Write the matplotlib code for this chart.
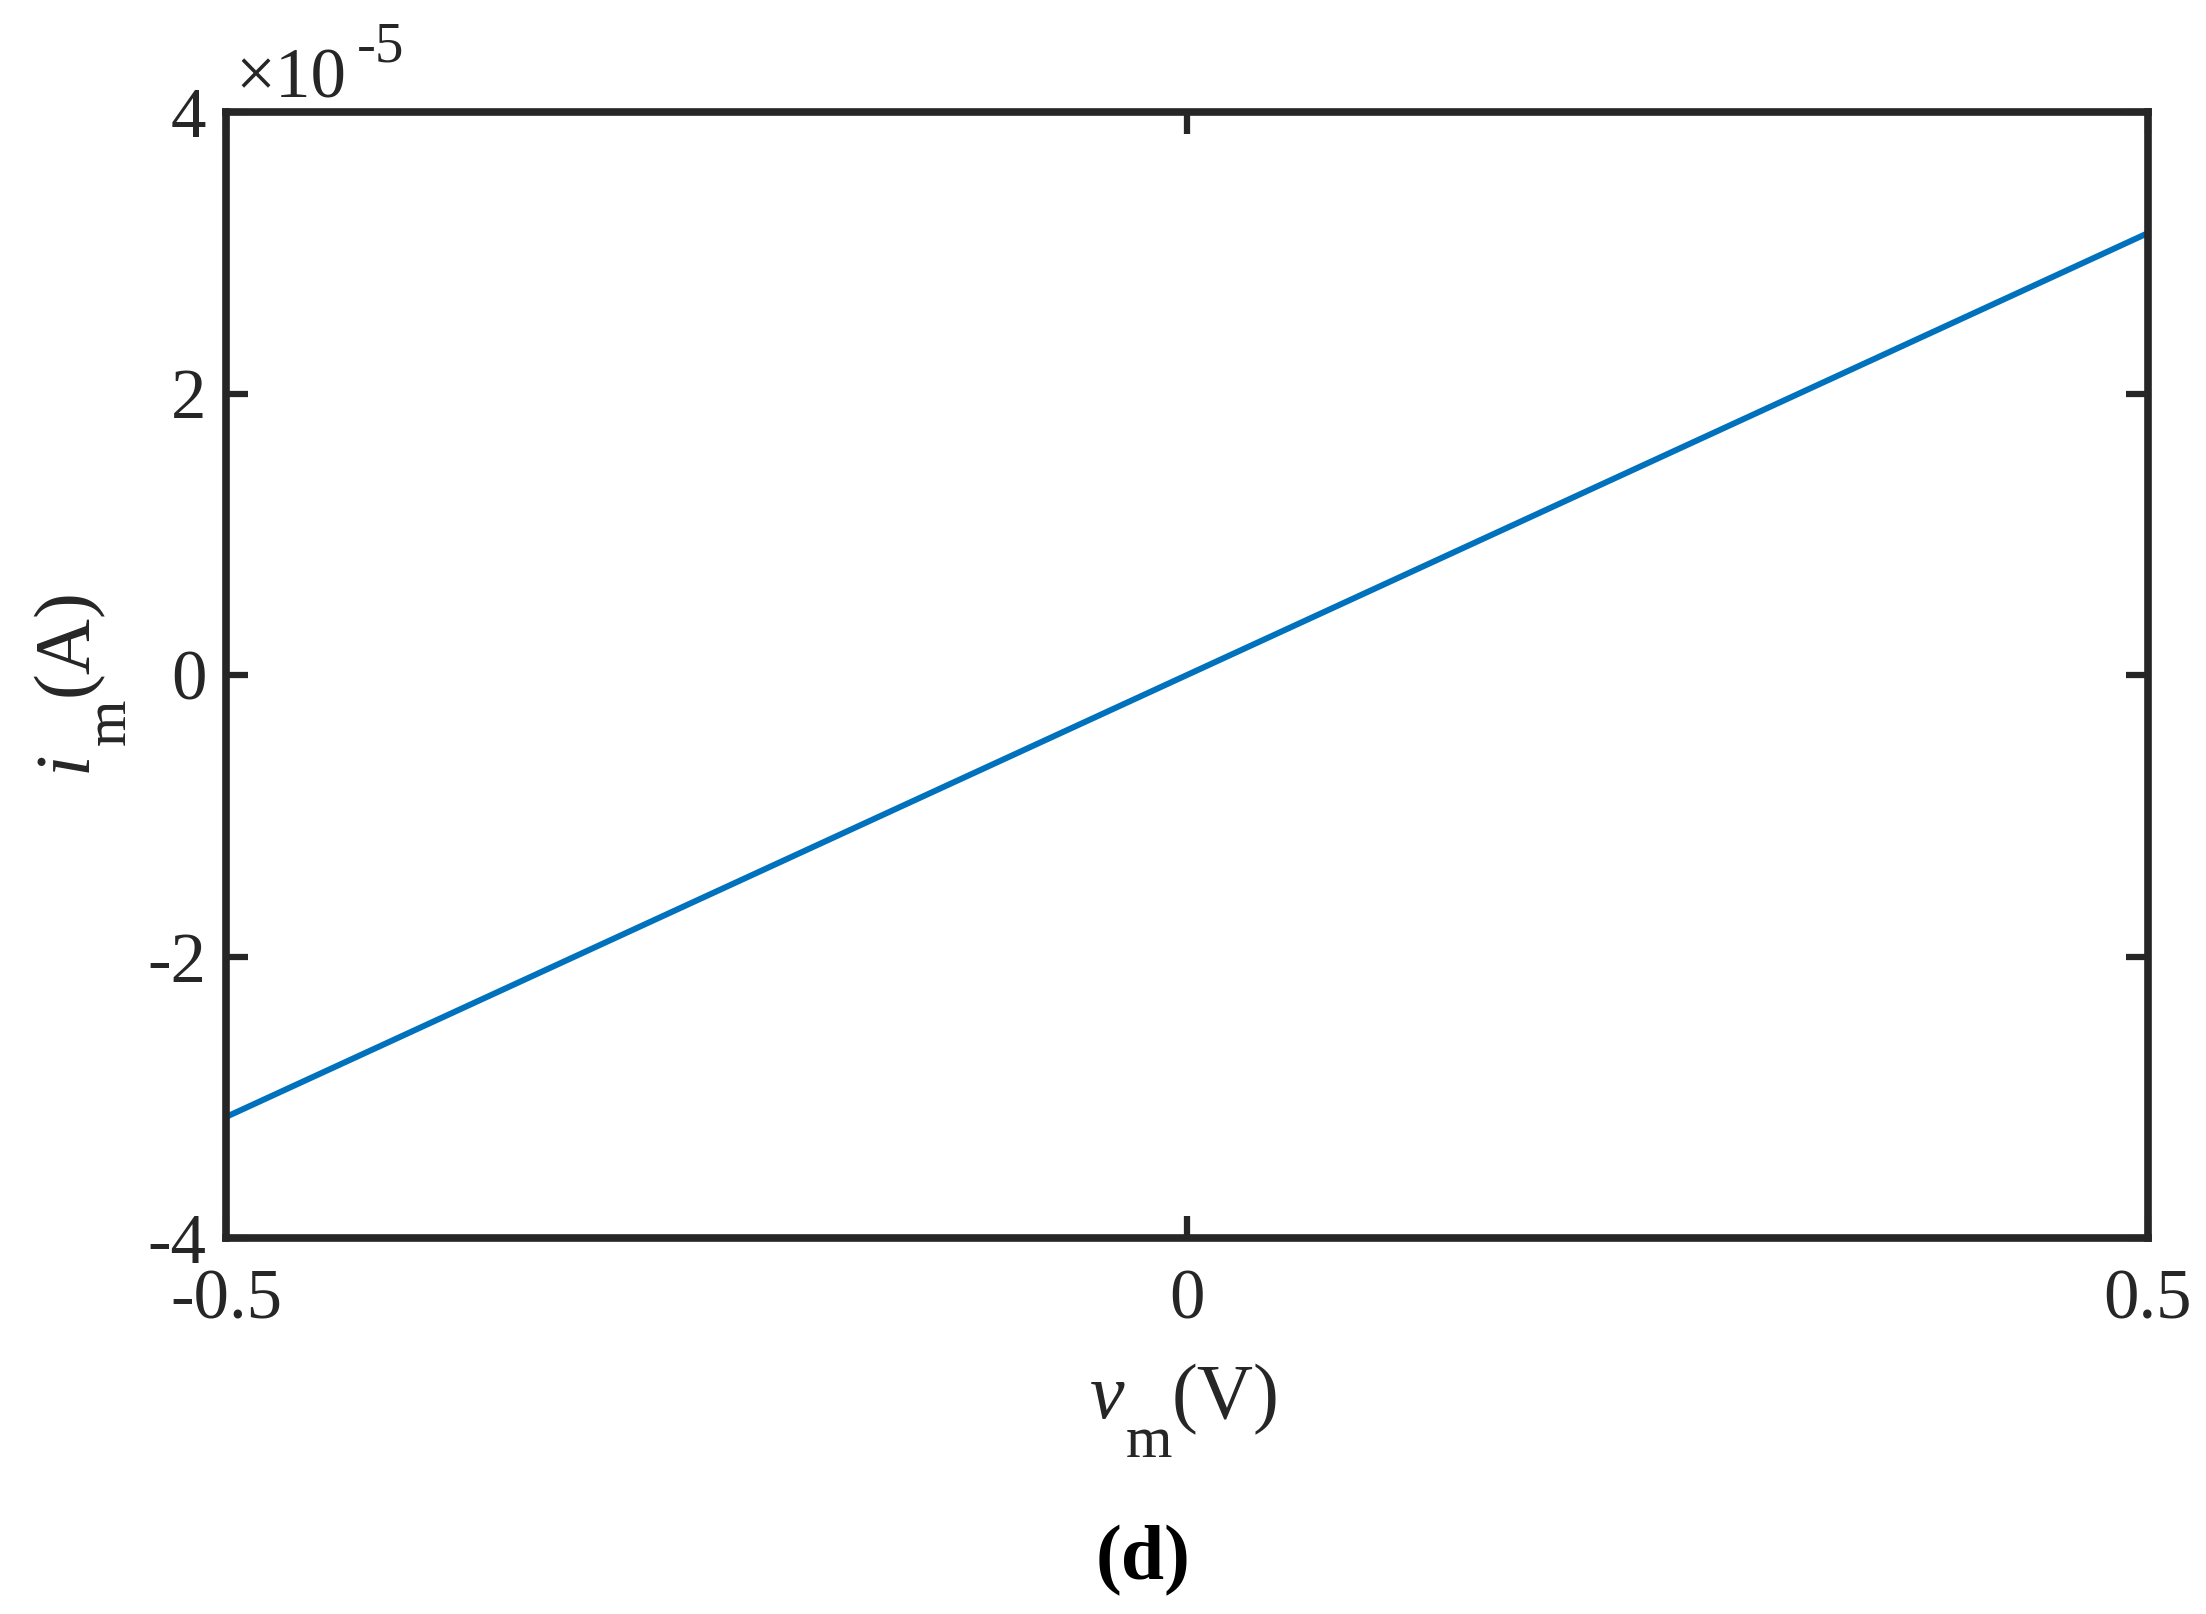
import numpy as np
import matplotlib
matplotlib.use("Agg")
import matplotlib.pyplot as plt

# memristor i-v curve
v_m = [-0.5, -0.25, 0.0, 0.25, 0.5]
i_m = [-3.14e-5, -1.57e-5, 0.0, 1.57e-5, 3.14e-5]

x_ticks = [-0.5, 0, 0.5]
x_labels = ["-0.5", "0", "0.5"]
y_ticks = [-4e-5, -2e-5, 0, 2e-5, 4e-5]
y_labels = ["-4", "-2", "0", "2", "4"]

plt.rcParams["font.family"] = ["Liberation Serif", "DejaVu Serif"]

axis_col = "#262626"
W, H = 2206, 1614

fig = plt.figure(figsize=(W / 100, H / 100), dpi=100)
ax = fig.add_axes([226 / W, 1 - 1238 / H, (2148 - 226) / W, (1238 - 112) / H])

ax.plot(v_m, i_m, color="#0072BD", linewidth=4.3, solid_capstyle="butt")

ax.set_xlim(-0.5, 0.5)
ax.set_ylim(-4e-5, 4e-5)
ax.set_xticks(x_ticks)
ax.set_xticklabels(x_labels)
ax.set_yticks(y_ticks)
ax.set_yticklabels(y_labels)

for s in ax.spines.values():
    s.set_linewidth(5.5)
    s.set_color(axis_col)
ax.tick_params(direction="in", length=16, width=4.5, colors=axis_col,
               labelsize=51, top=True, right=True)
ax.tick_params(axis="x", pad=22)
ax.tick_params(axis="y", pad=14)


def px(x, y):
    # figure pixel (from top-left) -> figure fraction
    return x / W, 1 - y / H


# x label: v_m(V), MATLAB style subscript
kw = dict(color=axis_col, va="baseline", ha="left")
fig.text(*px(1090, 1418), "v", fontsize=56, style="italic", **kw)
fig.text(*px(1126, 1457), "m", fontsize=43, **kw)
fig.text(*px(1172, 1418), "(V)", fontsize=56, **kw)

# y label: i_m(A), rotated
kw_r = dict(color=axis_col, va="baseline", ha="left", rotation=90,
            rotation_mode="anchor")
fig.text(*px(86, 772), "i", fontsize=56, style="italic", **kw_r)
fig.text(*px(125, 745), "m", fontsize=43, **kw_r)
fig.text(*px(86, 696), "(A)", fontsize=56, **kw_r)

# exponent above the y axis
fig.text(*px(235, 98), "\u00d710", fontsize=51, **kw)
fig.text(*px(357, 62), "-5", fontsize=41, **kw)

fig.text(1143 / W, 1 - 1561 / H, "(d)", fontsize=56, fontweight="bold",
         ha="center", va="center", color="black")

fig.savefig("out.png", dpi=100)
